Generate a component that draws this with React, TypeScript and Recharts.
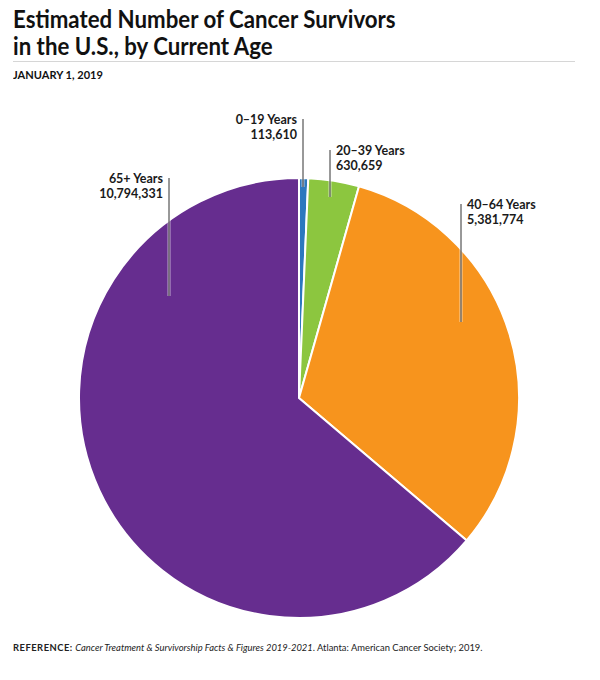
import { PieChart, Pie, Cell } from 'recharts';

const ageGroups = ['0–19 Years', '20–39 Years', '40–64 Years', '65+ Years'];
const survivors = [113610, 630659, 5381774, 10794331];

const COLORS = [
  '#2b78be', // 0-19
  '#8cc63f', // 20-39
  '#f7941d', // 40-64
  '#662d8f', // 65+
];

// leader line layout, relative to pie center (dx, line top, line bottom) and text side
const LEADERS = [
  { dx: 4, top: -279, bottom: -211, side: 'left' },
  { dx: 31, top: -248, bottom: -201, side: 'right' },
  { dx: 162, top: -194, bottom: -76, side: 'right' },
  { dx: -130, top: -220, bottom: -102, side: 'left' },
];

const data = ageGroups.map((name, i) => ({ name, value: survivors[i] }));

const FONT = 'Lato, "Open Sans", sans-serif';

const renderLabel = (props: any) => {
  const { cx, cy, index } = props;
  const l = LEADERS[index];
  const x = cx + l.dx;
  const tx = l.side === 'right' ? x + 6 : x - 6;
  const anchor = l.side === 'right' ? 'start' : 'end';
  const baseY = cy + l.top + 5;
  const textProps = {
    x: tx,
    textAnchor: anchor,
    fill: '#1a1a1a',
    fontSize: 12.5,
    fontWeight: 700,
    fontFamily: FONT,
  } as const;
  return (
    <g key={`lbl-${index}`}>
      <line x1={x} y1={cy + l.top} x2={x} y2={cy + l.bottom} stroke="#ffffff" strokeWidth={3} strokeOpacity={0.6} />
      <line x1={x} y1={cy + l.top} x2={x} y2={cy + l.bottom} stroke="#333333" strokeWidth={1} />
      <text {...textProps} y={baseY}>
        {ageGroups[index]}
      </text>
      <text {...textProps} y={baseY + 15}>
        {survivors[index].toLocaleString('en-US')}
      </text>
    </g>
  );
};

export default function App() {
  return (
    <div
      style={{
        position: 'absolute',
        top: 0,
        left: 0,
        width: 600,
        height: 680,
        background: '#ffffff',
        fontFamily: FONT,
        color: '#111',
      }}
    >
      <div
        style={{
          position: 'absolute',
          left: 13,
          top: 5,
          fontSize: 25,
          fontWeight: 700,
          lineHeight: '27px',
          whiteSpace: 'nowrap',
          transform: 'scaleX(0.89)',
          transformOrigin: 'left top',
        }}
      >
        Estimated Number of Cancer Survivors
        <br />
        in the U.S., by Current Age
      </div>
      <div
        style={{
          position: 'absolute',
          left: 13,
          top: 61,
          width: 562,
          borderTop: '1px solid #d6d6d6',
        }}
      />
      <div
        style={{
          position: 'absolute',
          left: 13,
          top: 67,
          fontSize: 12,
          fontWeight: 700,
          whiteSpace: 'nowrap',
          transform: 'scaleX(0.92)',
          transformOrigin: 'left top',
        }}
      >
        JANUARY 1, 2019
      </div>
      <div style={{ position: 'absolute', left: 0, top: 0 }}>
        <PieChart width={600} height={630} margin={{ top: 0, right: 0, bottom: 0, left: 0 }}>
          <Pie
            data={data}
            dataKey="value"
            nameKey="name"
            cx={299}
            cy={398}
            outerRadius={220}
            startAngle={90}
            endAngle={-270}
            stroke="#ffffff"
            strokeWidth={2}
            labelLine={false}
            label={renderLabel}
            isAnimationActive={false}
          >
            {data.map((d, i) => (
              <Cell key={d.name} fill={COLORS[i]} />
            ))}
          </Pie>
        </PieChart>
      </div>
      <div
        style={{
          position: 'absolute',
          left: 13,
          top: 642,
          fontSize: 9.4,
          color: '#222',
          whiteSpace: 'nowrap',
        }}
      >
        <span style={{ fontWeight: 700, letterSpacing: 0.5 }}>REFERENCE:</span>{' '}
        <i>Cancer Treatment &amp; Survivorship Facts &amp; Figures 2019-2021</i>. Atlanta: American
        Cancer Society; 2019.
      </div>
    </div>
  );
}
